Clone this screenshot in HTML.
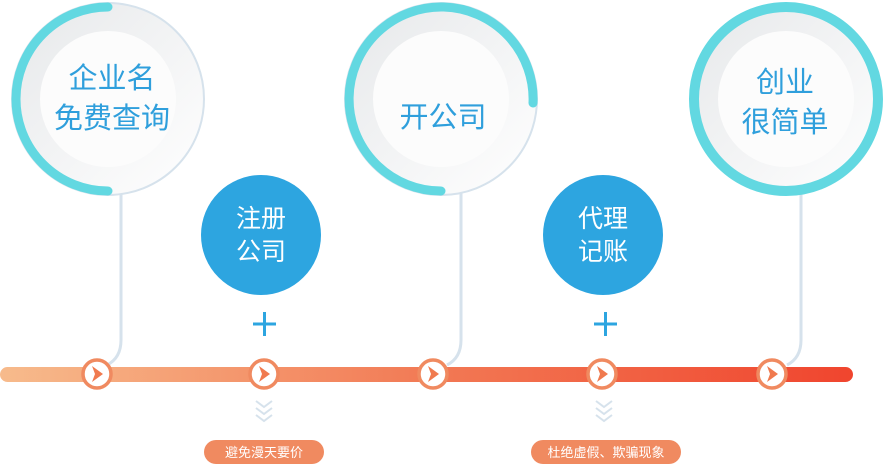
<!DOCTYPE html>
<html><head><meta charset="utf-8"><style>
html,body{margin:0;padding:0;background:#fff;}
svg{display:block;}
text{font-family:"Liberation Sans","Noto Sans CJK SC",sans-serif;}
</style></head><body>
<svg width="887" height="464" viewBox="0 0 887 464" xmlns="http://www.w3.org/2000/svg">
<defs>
<linearGradient id="tl" x1="0" x2="1" y1="0" y2="0">
<stop offset="0" stop-color="#f7bb8c"/><stop offset="0.5" stop-color="#f27a55"/><stop offset="1" stop-color="#f0452e"/>
</linearGradient>
<linearGradient id="cg" x1="0" y1="0" x2="1" y2="1">
<stop offset="0" stop-color="#e6e8ea"/><stop offset="1" stop-color="#ffffff"/>
</linearGradient>
<g id="n"><circle cx="0" cy="0" r="14" fill="#fff" stroke="#f08a60" stroke-width="3.5"/><path d="M-5 -8 L6 0 L-5 8 L-2 0 Z" fill="#f07a4f"/></g>
</defs>
<g fill="none" stroke="#d6e2ec" stroke-width="3">
<path d="M121 190 V340 Q121 358 107 365"/>
<path d="M461 190 V340 Q461 358 447 365"/>
<path d="M801 190 V340 Q801 358 787 365"/>
</g>
<g>
<circle cx="108" cy="99" r="96" fill="url(#cg)" stroke="#d6e2ec" stroke-width="2"/>
<circle cx="108" cy="99" r="68" fill="#fcfcfc"/>
<path d="M108 7 A92 92 0 0 0 108 191" fill="none" stroke="#62d8e1" stroke-width="9" stroke-linecap="round"/>
<text x="112" y="88" font-size="29" fill="#2f9fdc" text-anchor="middle">企业名</text>
<text x="112" y="128" font-size="29" fill="#2f9fdc" text-anchor="middle">免费查询</text>

<circle cx="441" cy="99" r="96" fill="url(#cg)" stroke="#d6e2ec" stroke-width="2"/>
<circle cx="441" cy="99" r="68" fill="#fcfcfc"/>
<path d="M441 191 A92 92 0 1 1 533 103" fill="none" stroke="#62d8e1" stroke-width="9" stroke-linecap="round"/>
<text x="443" y="127" font-size="29" fill="#2f9fdc" text-anchor="middle">开公司</text>

<circle cx="786" cy="99" r="96" fill="url(#cg)"/>
<circle cx="786" cy="99" r="68" fill="#fcfcfc"/>
<circle cx="786" cy="99" r="92" fill="none" stroke="#62d8e1" stroke-width="10"/>
<text x="785" y="92" font-size="29" fill="#2f9fdc" text-anchor="middle">创业</text>
<text x="785" y="132" font-size="29" fill="#2f9fdc" text-anchor="middle">很简单</text>
</g>
<circle cx="261" cy="235" r="60" fill="#2da5e0"/>
<text x="261" y="227" font-size="25" fill="#fff" text-anchor="middle">注册</text>
<text x="261" y="260" font-size="25" fill="#fff" text-anchor="middle">公司</text>
<circle cx="603" cy="235" r="60" fill="#2da5e0"/>
<text x="603" y="227" font-size="25" fill="#fff" text-anchor="middle">代理</text>
<text x="603" y="260" font-size="25" fill="#fff" text-anchor="middle">记账</text>
<g stroke="#2da5e0" stroke-width="3">
<path d="M253 324 H276 M264.5 312 V336"/>
<path d="M594 324 H617 M605.5 312 V336"/>
</g>
<rect x="0" y="367" width="853" height="15" rx="7.5" fill="url(#tl)"/>
<use href="#n" x="97" y="374"/>
<use href="#n" x="264" y="374"/>
<use href="#n" x="433" y="374"/>
<use href="#n" x="602" y="374"/>
<use href="#n" x="772" y="374"/>
<g fill="none" stroke="#d6e2ec" stroke-width="2">
<path d="M256 401 L264 407 L272 401 M256 408 L264 414 L272 408 M256 415 L264 421 L272 415"/>
<path d="M596 401 L604 407 L612 401 M596 408 L604 414 L612 408 M596 415 L604 421 L612 415"/>
</g>
<rect x="204" y="440" width="120" height="24" rx="12" fill="#f08a60"/>
<text x="264" y="457" font-size="13" fill="#fff" text-anchor="middle">避免漫天要价</text>
<rect x="531" y="440" width="150" height="24" rx="12" fill="#f08a60"/>
<text x="606" y="457" font-size="13" fill="#fff" text-anchor="middle">杜绝虚假、欺骗现象</text>
</svg>
</body></html>
